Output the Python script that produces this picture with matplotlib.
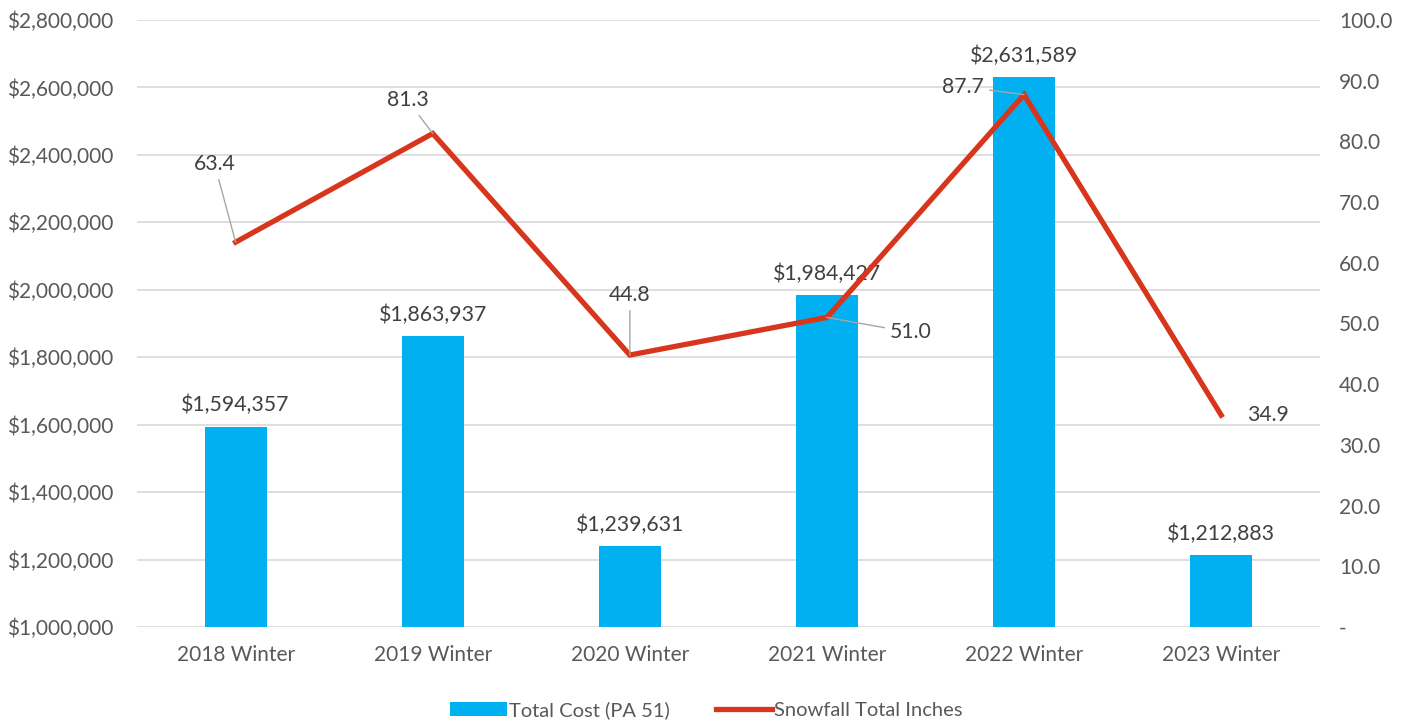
import matplotlib.pyplot as plt
from matplotlib.ticker import FuncFormatter, MultipleLocator
from matplotlib.patches import Patch
from matplotlib.lines import Line2D
import numpy as np

plt.rcParams['font.family'] = ['Lato', 'DejaVu Sans']

seasons = ["2018 Winter", "2019 Winter", "2020 Winter",
           "2021 Winter", "2022 Winter", "2023 Winter"]
total_cost = [1594357, 1863937, 1239631, 1984427, 2631589, 1212883]
snowfall = [63.4, 81.3, 44.8, 51.0, 87.7, 34.9]

# label offsets (pixels) for the snowfall labels
snow_offsets = [(-21, 78), (-25, 33), (0, 60), (84, -15), (-61, 8), (47, 0)]
snow_leader = [True, True, True, True, True, False]

bar_color = "#00B0F0"
line_color = "#D7361D"
text_color = "#595959"
grid_color = "#D9D9D9"

fig = plt.figure(figsize=(14.13, 7.21), dpi=100)
ax = fig.add_axes([0.097, 0.1304, 0.837, 0.8419])
ax2 = ax.twinx()

x = np.arange(len(seasons))
ax.bar(x, total_cost, width=0.315, color=bar_color, zorder=2)
ax.set_ylim(1000000, 2800000)
ax.yaxis.set_major_locator(MultipleLocator(200000))
ax.yaxis.set_major_formatter(FuncFormatter(lambda v, p: f"${v:,.0f}"))
ax.set_xlim(-0.5, len(seasons) - 0.5)
ax.set_xticks(x)
ax.set_xticklabels(seasons)
ax.grid(axis='y', color=grid_color, linewidth=1.2, zorder=0)
ax.set_axisbelow(True)

for xi, v in zip(x, total_cost):
    ax.annotate(f"${v:,.0f}", (xi, v), xytext=(0, 11), textcoords='offset pixels',
                ha='center', va='bottom', fontsize=15.3, color="#404040")

ax2.plot(x, snowfall, color=line_color, linewidth=3.8, solid_joinstyle='miter', zorder=3)
ax2.set_ylim(0, 100)
ax2.yaxis.set_major_locator(MultipleLocator(10))
ax2.yaxis.set_major_formatter(FuncFormatter(lambda v, p: "-" if abs(v) < 1e-9 else f"{v:.1f}"))

for xi, v, off, lead in zip(x, snowfall, snow_offsets, snow_leader):
    arrow = dict(arrowstyle='-', color="#A6A6A6", linewidth=1.0, shrinkA=2, shrinkB=0) if lead else None
    ax2.annotate(f"{v:.1f}", (xi, v), xytext=off, textcoords='offset pixels',
                 ha='center', va='center', fontsize=15.3, color="#404040",
                 arrowprops=arrow)

for a in (ax, ax2):
    for s in a.spines.values():
        s.set_visible(False)
    a.tick_params(length=0, labelsize=15, labelcolor=text_color)
ax.tick_params(axis='y', pad=17)
ax2.tick_params(axis='y', pad=14)
ax.tick_params(axis='x', pad=13)

handles = [Patch(facecolor=bar_color, label="Total Cost (PA 51)"),
           Line2D([0], [0], color=line_color, linewidth=3.8, label="Snowfall Total Inches")]
fig.legend(handles=handles, loc='lower center', bbox_to_anchor=(0.5, -0.022), ncol=2,
           frameon=False, fontsize=14.5, labelcolor=text_color,
           handlelength=2.8, handleheight=0.7, handletextpad=0.1, columnspacing=2.3)

fig.savefig("out.png", dpi=100)
